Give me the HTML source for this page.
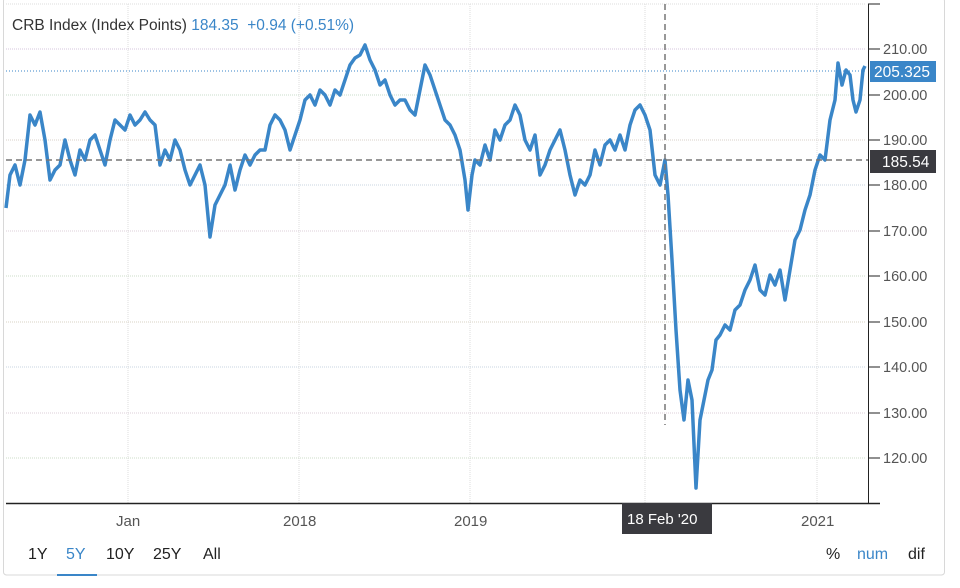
<!DOCTYPE html>
<html><head><style>
body{margin:0;background:#fff;font-family:"Liberation Sans",sans-serif;}
</style></head><body>
<svg width="960" height="583" xmlns="http://www.w3.org/2000/svg" font-family="Liberation Sans, sans-serif">
<rect x="3.5" y="-2" width="941" height="577" rx="3" fill="#fff" stroke="#d8d8d8"/>
<g stroke="#ddd" stroke-dasharray="1,1">
<line x1="6" y1="4" x2="866" y2="4"/>
<line x1="128" y1="4" x2="128" y2="503"/><line x1="299" y1="4" x2="299" y2="503"/>
<line x1="470" y1="4" x2="470" y2="503"/><line x1="645" y1="4" x2="645" y2="503"/>
<line x1="817" y1="4" x2="817" y2="503"/>
</g>
<g stroke-dasharray="1,1">
<line x1="6" y1="49" x2="866" y2="49" stroke="#d6c6dc"/>
<line x1="6" y1="95" x2="866" y2="95" stroke="#c8dccb"/>
<line x1="6" y1="140" x2="866" y2="140" stroke="#d8d0c8"/>
<line x1="6" y1="185" x2="866" y2="185" stroke="#c8d4e0"/>
<line x1="6" y1="231" x2="866" y2="231" stroke="#dccfd8"/>
<line x1="6" y1="276" x2="866" y2="276" stroke="#cddcc9"/>
<line x1="6" y1="322" x2="866" y2="322" stroke="#d8d3c6"/>
<line x1="6" y1="367" x2="866" y2="367" stroke="#c9d5e0"/>
<line x1="6" y1="413" x2="866" y2="413" stroke="#dccfd8"/>
<line x1="6" y1="458" x2="866" y2="458" stroke="#cddcc9"/>
</g>
<line x1="6" y1="71" x2="866" y2="71" stroke="#3a86c8" stroke-dasharray="1,2"/>
<polyline fill="none" stroke="#3a86c8" stroke-width="3.5" stroke-linejoin="round" points="6,208 10,175 15,165 20,185 25,160 30,115 35,125 40,112 45,140 50,180 55,170 60,165 65,140 70,160 75,175 80,150 85,160 90,140 95,135 100,150 105,165 110,140 115,120 120,125 125,130 130,115 135,125 140,120 145,112 150,120 155,125 160,165 165,150 170,160 175,140 180,150 185,170 190,185 195,175 200,165 205,185 210,237 215,205 220,195 225,185 230,165 235,190 240,170 245,155 250,165 255,155 260,150 265,150 270,125 275,115 280,120 285,130 290,150 295,135 300,120 305,100 310,95 315,105 320,90 325,95 330,105 335,90 340,95 345,80 350,65 355,58 360,55 365,45 370,60 375,70 380,85 385,80 390,95 395,105 400,100 405,100 410,110 415,115 420,90 425,65 430,75 435,90 440,105 445,120 450,125 455,135 460,150 465,180 468,210 472,175 475,160 480,165 485,145 490,160 495,130 500,140 505,125 510,120 515,105 520,115 525,140 530,150 535,135 540,175 545,165 550,150 555,140 560,130 565,150 570,175 575,195 580,180 585,185 590,175 595,150 600,165 605,145 610,140 615,150 620,135 625,150 630,125 635,110 640,105 645,115 650,130 655,175 660,185 665,160 668,195 672,260 676,330 680,390 684,420 688,380 692,400 696,488 700,420 704,400 708,380 712,370 716,340 720,335 725,325 730,330 735,310 740,305 745,290 750,280 755,265 760,290 765,295 770,275 775,285 780,270 785,300 790,270 795,240 800,230 805,210 810,195 815,170 820,155 825,160 830,120 835,100 838,63 842,85 846,70 850,75 853,100 856,112 860,100 863,70 865,66"/>
<g stroke="#777" stroke-dasharray="6,4" stroke-width="1.5">
<line x1="665" y1="4" x2="665" y2="425"/>
<line x1="6" y1="160" x2="868" y2="160"/>
</g>
<line x1="6" y1="503.5" x2="880" y2="503.5" stroke="#222" stroke-width="1.5"/>
<line x1="868.5" y1="4" x2="868.5" y2="503" stroke="#222"/>
<line x1="868" y1="4" x2="880" y2="4" stroke="#222"/>
<g stroke="#222"><line x1="868" y1="49" x2="880" y2="49"/><line x1="868" y1="95" x2="880" y2="95"/><line x1="868" y1="140" x2="880" y2="140"/><line x1="868" y1="185" x2="880" y2="185"/><line x1="868" y1="231" x2="880" y2="231"/><line x1="868" y1="276" x2="880" y2="276"/><line x1="868" y1="322" x2="880" y2="322"/><line x1="868" y1="367" x2="880" y2="367"/><line x1="868" y1="413" x2="880" y2="413"/><line x1="868" y1="458" x2="880" y2="458"/></g>
<g font-size="14.5" fill="#555">
<text x="883" y="54">210.00</text><text x="883" y="100">200.00</text><text x="883" y="145">190.00</text><text x="883" y="190">180.00</text><text x="883" y="236">170.00</text><text x="883" y="281">160.00</text><text x="883" y="327">150.00</text><text x="883" y="372">140.00</text><text x="883" y="418">130.00</text><text x="883" y="463">120.00</text>
</g>
<rect x="870" y="61" width="66" height="21" fill="#3a86c8"/>
<text x="874" y="77" font-size="15.5" fill="#fff">205.325</text>
<rect x="870" y="150" width="66" height="23" fill="#3a3a3f"/>
<text x="882" y="167" font-size="15.5" fill="#fff">185.54</text>
<g font-size="15" fill="#555">
<text x="116" y="526">Jan</text><text x="283" y="526">2018</text><text x="454" y="526">2019</text><text x="801" y="526">2021</text>
</g>
<rect x="622" y="503" width="90" height="31" fill="#3a3a3f"/>
<text x="627" y="524" font-size="15" fill="#fff">18 Feb '20</text>
<text x="12" y="30" font-size="15.5" fill="#333" xml:space="preserve">CRB Index (Index Points) <tspan fill="#3a86c8">184.35  +0.94 (+0.51%)</tspan></text>
<g font-size="16" fill="#222">
<text x="28" y="559">1Y</text><text x="66" y="559" fill="#3a86c8">5Y</text><text x="106" y="559">10Y</text><text x="153" y="559">25Y</text><text x="203" y="559">All</text>
<text x="826" y="559">%</text><text x="857" y="559" fill="#3a86c8">num</text><text x="908" y="559">dif</text>
</g>
<line x1="57" y1="575" x2="97" y2="575" stroke="#3a86c8" stroke-width="2"/>
</svg>
</body></html>
